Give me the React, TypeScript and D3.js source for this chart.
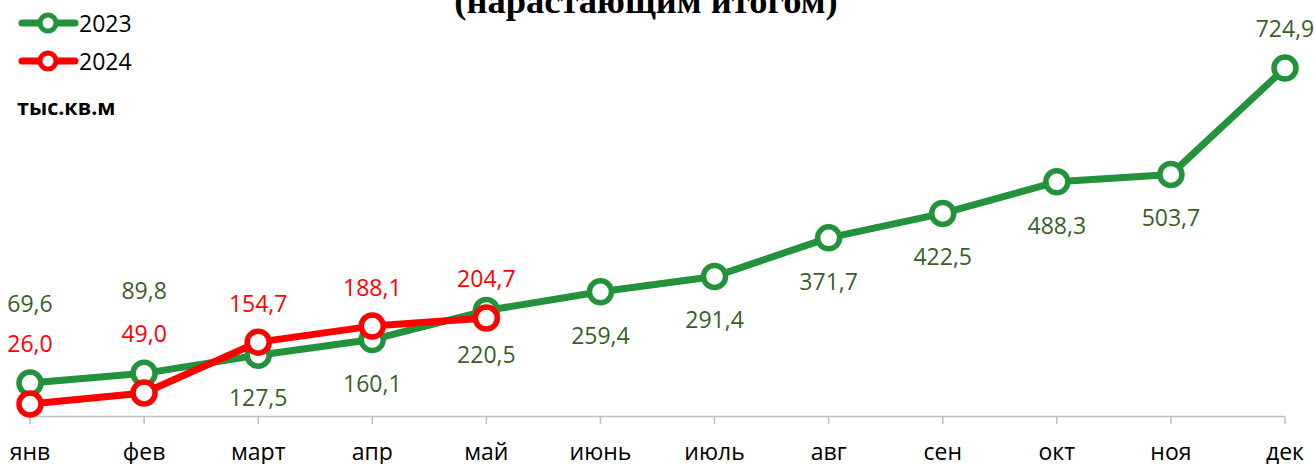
import React from "react";
import * as d3 from "d3";

const months = ["янв", "фев", "март", "апр", "май", "июнь", "июль", "авг", "сен", "окт", "ноя", "дек"];
const values2023 = [69.6, 89.8, 127.5, 160.1, 220.5, 259.4, 291.4, 371.7, 422.5, 488.3, 503.7, 724.9];
const values2024 = [26.0, 49.0, 154.7, 188.1, 204.7];
const seriesNames = ["2023", "2024"];
const titleText = "(нарастающим итогом)";
const unitText = "тыс.кв.м";

const W = 1315;
const H = 464;
const GREEN = "#22923b";
const GREEN_LABEL = "#3b5e28";
const RED = "#ff0000";
const FONT = "'Open Sans', sans-serif";

// label vertical offsets (layout, px relative to point)
const off2023 = [-80, -83, 42, 43, 43, 43, 43, 43, 43, 43, 43, -40];
const off2024 = [-61, -60, -39, -39, -40];

const fmt = (v: number) => v.toFixed(1).replace(".", ",");

export default function App() {
  const x = d3.scalePoint<string>().domain(months).range([30, 1285]);
  const y = d3.scaleLinear().domain([0, 800]).range([416.5, 32]);
  const line = d3
    .line<number>()
    .x((_, i) => x(months[i]) as number)
    .y((d) => y(d));

  const series = [
    { name: seriesNames[0], values: values2023, color: GREEN, labelColor: GREEN_LABEL, off: off2023 },
    { name: seriesNames[1], values: values2024, color: RED, labelColor: RED, off: off2024 },
  ];

  return (
    <svg
      width={W}
      height={H}
      style={{ position: "absolute", left: 0, top: 0, background: "#fff" }}
      fontFamily={FONT}
    >
      <text
        x={646}
        y={12.5}
        textAnchor="middle"
        fontFamily="'Liberation Serif', 'Times New Roman', serif"
        fontWeight="bold"
        fontSize={36.5}
        fill="#000"
      >
        {titleText}
      </text>

      {/* axis */}
      <line x1={30} x2={1285} y1={416.5} y2={416.5} stroke="#bfbfbf" strokeWidth={1.5} />
      {months.map((m) => (
        <g key={m}>
          <line x1={x(m)} x2={x(m)} y1={416.5} y2={424} stroke="#bfbfbf" strokeWidth={1.5} />
          <text x={x(m)} y={460} textAnchor="middle" fontSize={23} fill="#000">
            {m}
          </text>
        </g>
      ))}

      {series.map((s) => (
        <g key={s.name}>
          <path d={line(s.values) || ""} fill="none" stroke={s.color} strokeWidth={7} strokeLinejoin="round" />
          {s.values.map((v, i) => (
            <circle key={i} cx={x(months[i])} cy={y(v)} r={11} fill="#fff" stroke={s.color} strokeWidth={5.5} />
          ))}
        </g>
      ))}
      {series.map((s) => (
        <g key={s.name + "l"}>
          {s.values.map((v, i) => (
            <text
              key={i}
              x={x(months[i])}
              y={y(v) + s.off[i]}
              dominantBaseline="central"
              textAnchor="middle"
              fontSize={23}
              fill={s.labelColor}
            >
              {fmt(v)}
            </text>
          ))}
        </g>
      ))}

      {/* legend */}
      {series.map((s, i) => {
        const ly = 23 + i * 38;
        return (
          <g key={s.name + "leg"}>
            <line x1={22} x2={75} y1={ly} y2={ly} stroke={s.color} strokeWidth={7} strokeLinecap="round" />
            <circle cx={48} cy={ly} r={8} fill="#fff" stroke={s.color} strokeWidth={5} />
            <text x={79} y={ly} dominantBaseline="central" fontSize={23} fill="#000">
              {s.name}
            </text>
          </g>
        );
      })}
      <text x={17} y={106} dominantBaseline="central" fontSize={21.5} fontWeight="bold" fill="#000">
        {unitText}
      </text>
    </svg>
  );
}
